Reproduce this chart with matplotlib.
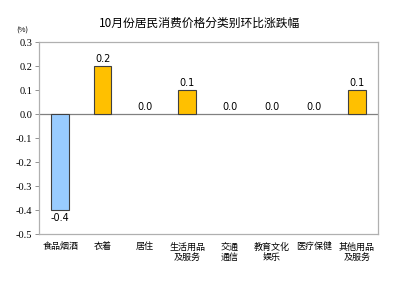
import matplotlib.pyplot as plt
import numpy as np

plt.rcParams['font.family'] = ['Noto Sans CJK SC', 'DejaVu Sans']

categories = ['食品烟酒', '衣着', '居住', '生活用品\n及服务', '交通\n通信', '教育文化\n娱乐', '医疗保健', '其他用品\n及服务']
values = [-0.4, 0.2, 0.0, 0.1, 0.0, 0.0, 0.0, 0.1]
yticks = [0.3, 0.2, 0.1, 0.0, -0.1, -0.2, -0.3, -0.4, -0.5]

fig = plt.figure(figsize=(4, 2.86), dpi=100)
ax = fig.add_axes([39 / 400, 1 - 234 / 286, 339 / 400, 192 / 286])

x = np.arange(len(categories))
colors = ['#99CCFF' if v < 0 else '#FFC000' for v in values]
edges = ['none' if v == 0 else '#404040' for v in values]
ax.bar(x, values, width=0.42, color=colors, edgecolor=edges, linewidth=0.8, zorder=2)
ax.axhline(0, color='#808080', linewidth=0.9, zorder=1)

for xi, v in zip(x, values):
    if v < 0:
        ax.text(xi, v - 0.012, f'{v:.1f}', ha='center', va='top', fontsize=7, family='DejaVu Sans')
    else:
        ax.text(xi, v + 0.01, f'{v:.1f}', ha='center', va='bottom', fontsize=7, family='DejaVu Sans')

ax.set_xlim(-0.5, len(categories) - 0.5)
ax.set_ylim(-0.5, 0.3)
ax.set_yticks(yticks)
ax.set_yticklabels([f'{t:.1f}' for t in yticks])
for lab in ax.get_yticklabels():
    lab.set_fontfamily(['Liberation Serif'])
    lab.set_fontsize(7.5)
ax.set_xticks(x)
ax.set_xticklabels(categories, fontsize=6.5, linespacing=1.25, va='top')
ax.tick_params(axis='x', length=0, pad=6)
ax.tick_params(axis='y', length=3, width=0.6, color='#808080', pad=2)
for s in ax.spines.values():
    s.set_color('#B0B0B0')
    s.set_linewidth(0.9)

fig.text(200 / 400, 1 - 23 / 286, '10月份居民消费价格分类别环比涨跌幅', ha='center', va='center', fontsize=8.5)
fig.text(22 / 400, 1 - 31 / 286, '(%)', ha='center', va='center', fontsize=5.5)

fig.savefig('out.png', dpi=100)
